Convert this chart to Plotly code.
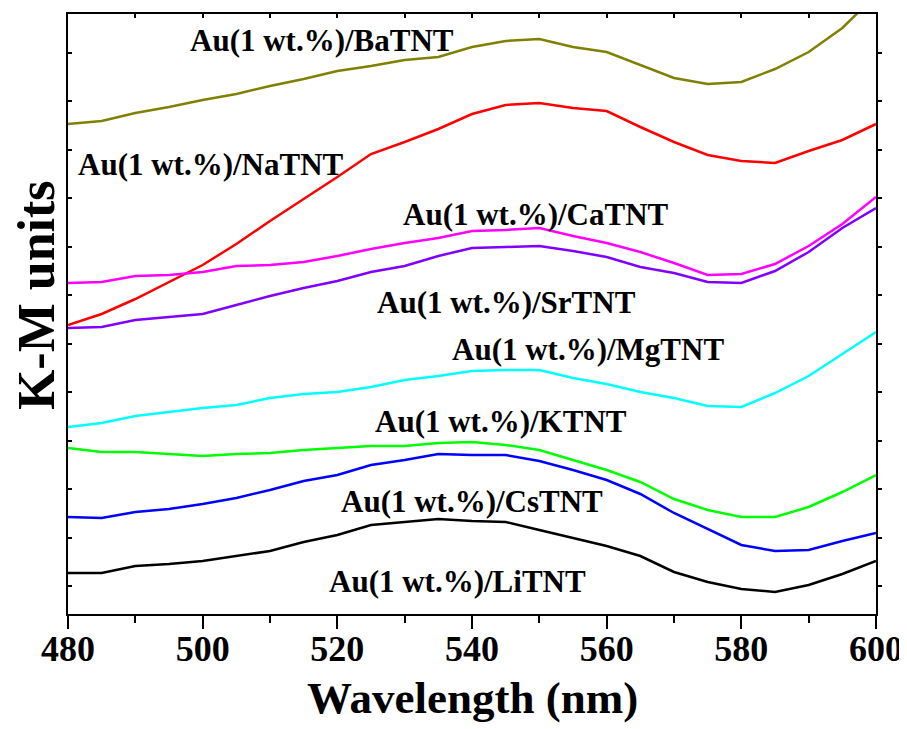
import plotly.graph_objects as go

wavelength = [480, 485, 490, 495, 500, 505, 510, 515, 520, 525, 530, 535, 540,
              545, 550, 555, 560, 565, 570, 575, 580, 585, 590, 595, 600]

ba_tnt = [4.90, 4.93, 5.01, 5.07, 5.14, 5.20, 5.28, 5.35, 5.43, 5.48, 5.54, 5.57, 5.67,
          5.73, 5.75, 5.67, 5.62, 5.49, 5.36, 5.30, 5.32, 5.45, 5.62, 5.86, 6.19]
na_tnt = [2.89, 3.00, 3.15, 3.32, 3.49, 3.70, 3.93, 4.15, 4.37, 4.60, 4.72, 4.85, 5.00,
          5.09, 5.11, 5.06, 5.03, 4.87, 4.72, 4.59, 4.53, 4.51, 4.63, 4.74, 4.90]
ca_tnt = [3.31, 3.32, 3.38, 3.39, 3.42, 3.48, 3.49, 3.52, 3.58, 3.65, 3.71, 3.76, 3.83,
          3.84, 3.86, 3.78, 3.71, 3.62, 3.51, 3.39, 3.40, 3.50, 3.68, 3.90, 4.17]
sr_tnt = [2.86, 2.87, 2.94, 2.97, 3.00, 3.09, 3.18, 3.26, 3.33, 3.42, 3.48, 3.58, 3.66,
          3.67, 3.68, 3.63, 3.57, 3.47, 3.41, 3.32, 3.31, 3.43, 3.62, 3.86, 4.06]
mg_tnt = [1.87, 1.91, 1.98, 2.02, 2.06, 2.09, 2.16, 2.20, 2.22, 2.27, 2.34, 2.38, 2.43,
          2.44, 2.44, 2.36, 2.30, 2.22, 2.16, 2.08, 2.07, 2.21, 2.38, 2.60, 2.82]
k_tnt = [1.66, 1.62, 1.62, 1.60, 1.58, 1.60, 1.61, 1.64, 1.66, 1.68, 1.68, 1.71, 1.72,
         1.69, 1.64, 1.54, 1.44, 1.32, 1.15, 1.04, 0.97, 0.97, 1.07, 1.22, 1.39]
cs_tnt = [0.97, 0.96, 1.02, 1.05, 1.10, 1.16, 1.24, 1.33, 1.39, 1.49, 1.54, 1.60, 1.59,
          1.59, 1.53, 1.44, 1.34, 1.20, 1.01, 0.85, 0.69, 0.63, 0.64, 0.73, 0.81]
li_tnt = [0.41, 0.41, 0.48, 0.50, 0.53, 0.58, 0.63, 0.72, 0.79, 0.89, 0.92, 0.95, 0.93,
          0.92, 0.84, 0.76, 0.68, 0.58, 0.42, 0.32, 0.25, 0.22, 0.29, 0.40, 0.53]

series_names = ["BaTNT", "NaTNT", "CaTNT", "SrTNT", "MgTNT", "KTNT", "CsTNT", "LiTNT"]
series_values = [ba_tnt, na_tnt, ca_tnt, sr_tnt, mg_tnt, k_tnt, cs_tnt, li_tnt]
series_colors = ["#808000", "#FF0000", "#FF00FF", "#8000FF", "#00FFFF", "#00FF00", "#0000FF", "#000000"]

# label anchor positions (wavelength, K-M value)
label_x = [517.7, 501.2, 549.5, 545.1, 557.2, 544.3, 540.0, 537.8]
label_y = [5.74, 4.50, 4.00, 3.12, 2.65, 1.93, 1.13, 0.33]

x_ticks = [480, 500, 520, 540, 560, 580, 600]

FONT = "Liberation Serif"

fig = go.Figure()
for name, vals, col in zip(series_names, series_values, series_colors):
    fig.add_trace(go.Scatter(x=wavelength, y=vals, mode="lines", name=name,
                             line=dict(color=col, width=2.5), showlegend=False))

# helper trace to activate mirrored axes (top / right)
fig.add_trace(go.Scatter(x=[480, 600], y=[None, None], xaxis="x2", yaxis="y2",
                         mode="lines", showlegend=False, hoverinfo="skip"))

for name, lx, ly in zip(series_names, label_x, label_y):
    fig.add_annotation(x=lx, y=ly, text="<b>Au(1 wt.%)/" + name + "</b>", showarrow=False,
                       xanchor="center", yanchor="middle",
                       font=dict(family=FONT, size=31, color="black"))

fig.add_annotation(x=0.5, y=-0.140, xref="paper", yref="paper", text="<b>Wavelength (nm)</b>",
                   showarrow=False, xanchor="center", yanchor="middle",
                   font=dict(family=FONT, size=45, color="black"))
fig.add_annotation(x=-0.038, y=0.532, xref="paper", yref="paper", text="<b>K-M units</b>",
                   showarrow=False, xanchor="center", yanchor="middle", textangle=-90,
                   borderpad=0,
                   font=dict(family=FONT, size=52, color="black"))

common = dict(showline=True, linecolor="black", linewidth=2, showgrid=False,
              zeroline=False, automargin=False)

# page body has an 8px default margin, so the figure is sized/offset to compensate
fig.update_layout(
    width=899, height=721,
    margin=dict(l=60, r=31, t=6, b=115),
    paper_bgcolor="white", plot_bgcolor="white",
    xaxis=dict(range=[480, 600], tickmode="array", tickvals=x_ticks,
               ticktext=["<b>%d</b>" % t for t in x_ticks],
               ticks="outside", ticklen=13, tickwidth=2, tickcolor="black",
               ticklabelstandoff=-11,
               minor=dict(dtick=10, tick0=480, ticks="outside", ticklen=7, tickwidth=2, tickcolor="black"),
               tickfont=dict(family=FONT, size=36, color="black"), **common),
    yaxis=dict(range=[0, 6.0], tick0=0.28, dtick=0.485, showticklabels=False,
               ticks="inside", ticklen=4, tickwidth=1.5, tickcolor="black", **common),
    xaxis2=dict(overlaying="x", side="top", range=[480, 600], tick0=480, dtick=10,
                showticklabels=False, ticks="inside", ticklen=4, tickwidth=1.5, tickcolor="black",
                **common),
    yaxis2=dict(overlaying="y", side="right", range=[0, 6.0], tick0=0.28, dtick=0.485,
                showticklabels=False, ticks="outside", ticklen=4, tickwidth=1.5, tickcolor="black",
                **common),
)

fig.write_html("out.html")
